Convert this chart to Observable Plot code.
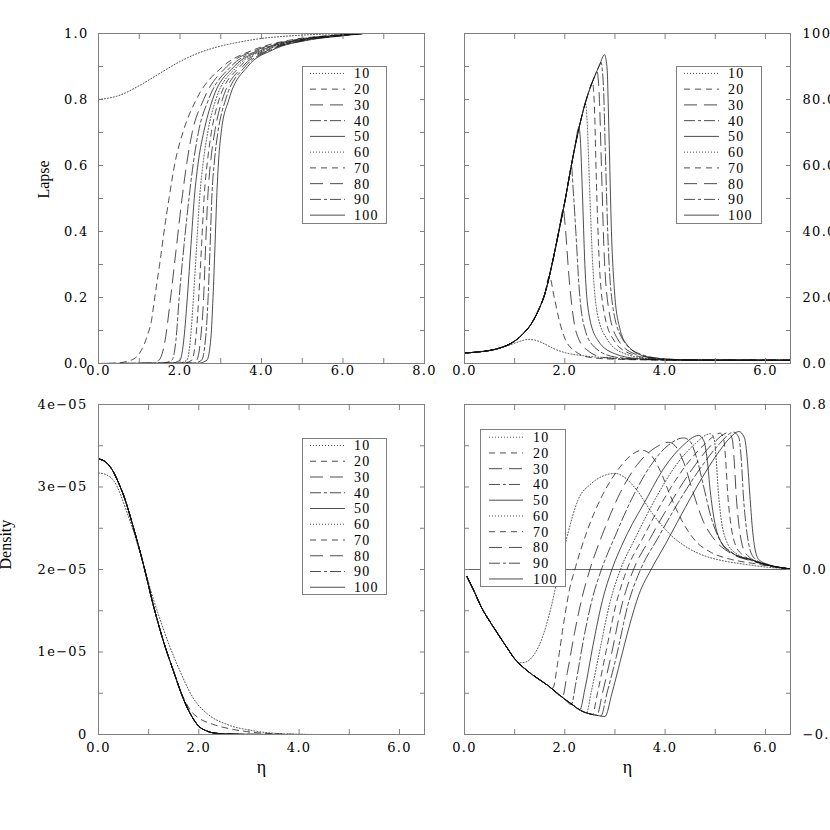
<!DOCTYPE html>
<html><head><meta charset="utf-8">
<script src="https://cdn.jsdelivr.net/npm/d3@7"></script>
<script src="https://cdn.jsdelivr.net/npm/@observablehq/plot@0.6"></script>
<style>
html,body{margin:0;padding:0;background:#fff;}
#fig{position:relative;width:830px;height:830px;overflow:hidden;background:#fff;}
</style></head><body><div id="fig"></div>
<script>
// ---------- series labels and line styles ----------
const series = ["10","20","30","40","50","60","70","80","90","100"];
const dashes = ["1,2","6,5","13,7","11,3,3,3",null,"1,2","6,5","13,7","11,3,3,3",null];

// ---------- top-left: Lapse vs eta ----------
const lapse10 = [[0,0.8],[0.5,0.812],[1,0.842],[1.5,0.879],[2,0.915],[2.5,0.943],[3,0.962],[3.5,0.975],[4,0.985],[4.5,0.991],[5,0.995],[5.5,0.998],[6,0.999],[6.5,1]];
const lapse20 = [[0,0],[0.4,0.001],[0.8,0.01],[1.05,0.04],[1.2,0.085],[1.3,0.13],[1.38,0.2],[1.5,0.3],[1.62,0.41],[1.73,0.5],[1.88,0.61],[2.07,0.7],[2.4,0.8],[3.05,0.9],[3.8,0.95],[4.7,0.98],[5.6,0.993],[6.5,1]];
const lapse30 = [[0,0],[1.2,0.001],[1.48,0.01],[1.62,0.06],[1.77,0.2],[1.9,0.34],[2.05,0.5],[2.17,0.61],[2.3,0.7],[2.58,0.8],[3.15,0.9],[3.88,0.95],[4.78,0.98],[5.65,0.993],[6.5,1]];
const lapse40 = [[0,0],[1.55,0.001],[1.8,0.01],[1.9,0.07],[1.98,0.2],[2.1,0.36],[2.22,0.5],[2.33,0.61],[2.45,0.7],[2.7,0.8],[3.25,0.9],[3.95,0.95],[4.85,0.98],[5.7,0.993],[6.5,1]];
const lapse50 = [[0,0],[1.78,0.001],[2.0,0.01],[2.1,0.08],[2.18,0.2],[2.27,0.36],[2.35,0.5],[2.46,0.62],[2.58,0.7],[2.8,0.8],[3.33,0.9],[4.02,0.95],[4.9,0.98],[5.75,0.993],[6.5,1]];
const lapse60 = [[0,0],[1.95,0.001],[2.17,0.01],[2.26,0.08],[2.33,0.2],[2.41,0.36],[2.48,0.5],[2.58,0.62],[2.68,0.7],[2.88,0.8],[3.4,0.9],[4.08,0.95],[4.95,0.98],[5.8,0.993],[6.5,1]];
const lapse70 = [[0,0],[2.08,0.001],[2.29,0.01],[2.39,0.08],[2.46,0.2],[2.53,0.36],[2.59,0.5],[2.68,0.62],[2.77,0.7],[2.96,0.8],[3.47,0.9],[4.13,0.95],[5.0,0.98],[5.85,0.993],[6.5,1]];
const lapse80 = [[0,0],[2.2,0.001],[2.41,0.01],[2.51,0.08],[2.58,0.2],[2.63,0.36],[2.68,0.5],[2.76,0.62],[2.85,0.7],[3.04,0.8],[3.54,0.9],[4.18,0.95],[5.05,0.98],[5.9,0.993],[6.5,1]];
const lapse90 = [[0,0],[2.33,0.001],[2.53,0.01],[2.63,0.08],[2.69,0.2],[2.74,0.36],[2.78,0.5],[2.85,0.62],[2.93,0.7],[3.12,0.8],[3.6,0.9],[4.22,0.95],[5.1,0.98],[5.95,0.993],[6.5,1]];
const lapse100 = [[0,0],[2.46,0.001],[2.66,0.01],[2.76,0.08],[2.81,0.2],[2.86,0.36],[2.9,0.5],[2.95,0.62],[3.01,0.7],[3.2,0.8],[3.66,0.9],[4.27,0.95],[5.15,0.98],[6.0,0.993],[6.5,1]];

// ---------- top-right ----------
const upRise = [[0,3.2],[0.33,3.6],[0.66,4.5],[1.0,6.8],[1.2,9.5],[1.33,12],[1.5,17],[1.6,21],[1.7,27],[1.8,34],[1.9,41.5],[2.0,49],[2.1,57.5],[2.2,65.5],[2.3,72.5],[2.4,78.5],[2.5,83.3],[2.6,87.2],[2.7,90.7],[2.79,93.6]];
const up10 = [[0,3.2],[0.33,3.55],[0.66,4.4],[0.9,5.6],[1.1,6.7],[1.28,7.3],[1.45,6.9],[1.6,5.9],[1.75,4.7],[2.0,3.3],[2.4,2.3],[3.0,1.6],[3.5,1.3],[4.0,1.1],[5,1.0],[6.5,1.0]];
const up20tail = [[1.69,26.4],[1.79,20],[1.89,13],[1.99,8],[2.19,3.9],[2.52,1.8],[3.0,1.3],[3.6,1.1],[4.5,1.0],[6.5,1.0]];
const up30tail = [[1.97,47],[2.0,43],[2.09,25],[2.19,12],[2.29,7],[2.46,3.9],[2.79,1.8],[3.3,1.3],[4.0,1.1],[6.5,1.0]];
const up40tail = [[2.13,60],[2.17,52],[2.22,40],[2.29,22],[2.39,11],[2.59,5],[2.99,2],[3.5,1.3],[4.2,1.05],[6.5,1.0]];
const up50tail = [[2.28,71.5],[2.31,68],[2.35,52],[2.4,30],[2.48,15],[2.66,7],[2.99,3],[3.45,1.5],[4.2,1.05],[6.5,1]];
const up60tail = [[2.41,79],[2.45,72],[2.49,55],[2.55,32],[2.65,15],[2.86,7],[3.19,3],[3.72,1.4],[4.3,1.05],[6.5,1]];
const up70tail = [[2.55,85.3],[2.59,78],[2.63,55],[2.69,30],[2.79,15],[2.98,7],[3.3,3],[3.8,1.4],[4.4,1.05],[6.5,1]];
const up80tail = [[2.64,88.6],[2.69,80],[2.73,60],[2.78,35],[2.88,16],[3.05,7.5],[3.38,3],[3.9,1.4],[4.5,1.05],[6.5,1]];
const up90tail = [[2.72,91.3],[2.77,84],[2.81,63],[2.86,38],[2.95,18],[3.13,8],[3.45,3.2],[3.98,1.4],[4.6,1.05],[6.5,1]];
const up100tail = [[2.79,93.6],[2.84,90],[2.88,70],[2.93,40],[2.99,22],[3.09,11],[3.25,5.5],[3.59,2.2],[3.98,1.4],[4.6,1.05],[6.5,1]];

// ---------- bottom-left: Density (units of 1e-05) ----------
const densMain = [[0,3.34],[0.1,3.32],[0.2,3.27],[0.3,3.18],[0.4,3.05],[0.5,2.9],[0.7,2.5],[0.9,2.05],[1.1,1.55],[1.3,1.12],[1.5,0.76],[1.7,0.42],[1.85,0.23],[2.0,0.1],[2.15,0.045],[2.3,0.018],[2.6,0.005],[3.0,0.001],[4,0]];
const dens10 = [[0,3.17],[0.15,3.15],[0.31,3.07],[0.57,2.69],[0.84,2.18],[1.1,1.63],[1.37,1.15],[1.63,0.76],[1.9,0.43],[2.17,0.25],[2.57,0.12],[3.04,0.05],[3.5,0.015],[4.0,0.003],[4.5,0]];
const dens20 = [[0,3.34],[0.1,3.32],[0.2,3.27],[0.3,3.18],[0.4,3.05],[0.5,2.9],[0.7,2.5],[0.9,2.05],[1.1,1.55],[1.3,1.12],[1.5,0.76],[1.7,0.44],[1.85,0.28],[2.0,0.2],[2.3,0.12],[2.7,0.06],[3.1,0.025],[3.6,0.007],[4.2,0]];

// ---------- bottom-right ----------
const lowEnv = [[0.05,-0.035],[0.2,-0.11],[0.33,-0.18],[0.5,-0.25],[0.66,-0.31],[0.85,-0.38],[1.0,-0.433],[1.15,-0.47],[1.33,-0.506],[1.5,-0.535],[1.66,-0.562],[1.8,-0.59],[1.99,-0.627],[2.15,-0.655],[2.32,-0.684],[2.5,-0.7],[2.66,-0.708],[2.8,-0.713]];
const low10tail = [[1.1,-0.452],[1.2,-0.45],[1.33,-0.43],[1.53,-0.344],[1.73,-0.18],[1.89,0],[2.06,0.173],[2.26,0.335],[2.52,0.415],[2.79,0.456],[3.0,0.466],[3.2,0.445],[3.45,0.38],[3.75,0.27],[4.1,0.17],[4.45,0.105],[4.8,0.065],[5.2,0.04],[5.6,0.025],[6.0,0.012],[6.5,0.003]];
const low20tail = [[1.76,-0.575],[1.86,-0.45],[1.99,-0.24],[2.1,-0.09],[2.2,0],[2.45,0.19],[2.75,0.36],[3.05,0.48],[3.3,0.55],[3.54,0.578],[3.7,0.56],[3.9,0.48],[4.1,0.36],[4.35,0.23],[4.6,0.14],[4.9,0.085],[5.3,0.05],[5.75,0.03],[6.1,0.015],[6.5,0.003]];
const low30tail = [[1.95,-0.62],[2.05,-0.5],[2.2,-0.3],[2.35,-0.13],[2.5,0],[2.75,0.17],[3.1,0.37],[3.45,0.51],[3.8,0.59],[4.07,0.617],[4.2,0.6],[4.37,0.52],[4.55,0.38],[4.75,0.24],[5.0,0.14],[5.3,0.08],[5.75,0.04],[6.1,0.018],[6.5,0.003]];
const low40tail = [[2.13,-0.655],[2.22,-0.55],[2.38,-0.33],[2.55,-0.14],[2.73,0],[3.0,0.16],[3.35,0.35],[3.7,0.5],[4.05,0.6],[4.37,0.638],[4.5,0.62],[4.63,0.54],[4.77,0.4],[4.92,0.25],[5.1,0.14],[5.35,0.08],[5.75,0.042],[6.1,0.018],[6.5,0.003]];
const low50tail = [[2.3,-0.68],[2.4,-0.58],[2.56,-0.37],[2.75,-0.15],[2.94,0],[3.2,0.15],[3.6,0.33],[4.0,0.5],[4.35,0.6],[4.67,0.65],[4.77,0.625],[4.84,0.53],[4.9,0.38],[4.98,0.24],[5.1,0.14],[5.3,0.085],[5.75,0.045],[6.1,0.018],[6.5,0.003]];
const low60tail = [[2.43,-0.695],[2.53,-0.59],[2.7,-0.39],[2.9,-0.16],[3.11,0],[3.4,0.15],[3.8,0.34],[4.2,0.5],[4.6,0.61],[4.9,0.658],[4.98,0.63],[5.02,0.53],[5.06,0.38],[5.12,0.24],[5.22,0.14],[5.4,0.08],[5.75,0.045],[6.1,0.018],[6.5,0.003]];
const low70tail = [[2.55,-0.703],[2.65,-0.6],[2.82,-0.4],[3.02,-0.17],[3.24,0],[3.55,0.15],[3.95,0.33],[4.4,0.5],[4.8,0.61],[5.1,0.661],[5.17,0.63],[5.21,0.52],[5.25,0.36],[5.31,0.22],[5.4,0.12],[5.55,0.07],[5.8,0.04],[6.1,0.018],[6.5,0.003]];
const low80tail = [[2.64,-0.707],[2.75,-0.6],[2.93,-0.41],[3.14,-0.17],[3.37,0],[3.7,0.15],[4.1,0.32],[4.55,0.49],[4.95,0.61],[5.27,0.664],[5.34,0.63],[5.38,0.52],[5.42,0.35],[5.48,0.2],[5.56,0.1],[5.68,0.06],[5.85,0.035],[6.1,0.018],[6.5,0.003]];
const low90tail = [[2.72,-0.71],[2.84,-0.6],[3.03,-0.42],[3.26,-0.17],[3.51,0],[3.85,0.15],[4.25,0.32],[4.7,0.49],[5.05,0.6],[5.37,0.666],[5.47,0.64],[5.52,0.53],[5.56,0.36],[5.62,0.2],[5.7,0.09],[5.8,0.05],[5.95,0.03],[6.2,0.014],[6.5,0.003]];
const low100tail = [[2.8,-0.713],[2.94,-0.6],[3.11,-0.44],[3.28,-0.28],[3.48,-0.12],[3.72,0],[4.0,0.12],[4.4,0.3],[4.8,0.47],[5.1,0.58],[5.3,0.64],[5.47,0.669],[5.58,0.64],[5.64,0.53],[5.69,0.36],[5.74,0.2],[5.8,0.09],[5.88,0.045],[6.05,0.025],[6.3,0.01],[6.5,0.003]];

// ---------- tick values ----------
const xTicksTL = [0,1,2,3,4,5,6,7,8], xLabelsTL = [0,2,4,6,8];
const xTicks = [0,1,2,3,4,5,6], xLabels = [0,2,4,6];
const yTicksTL = [0,0.1,0.2,0.3,0.4,0.5,0.6,0.7,0.8,0.9,1.0], yLabelsTL = [0,0.2,0.4,0.6,0.8,1.0];
const yTicksTR = [0,10,20,30,40,50,60,70,80,90,100], yLabelsTR = [0,20,40,60,80,100];
const yTicksBL = [0,0.5e-5,1e-5,1.5e-5,2e-5,2.5e-5,3e-5,3.5e-5,4e-5], yLabelsBL = [0,1e-5,2e-5,3e-5,4e-5];
const yTicksBR = [-0.8,-0.6,-0.4,-0.2,0,0.2,0.4,0.6,0.8], yLabelsBR = [-0.8,0,0.8];

// ---------- assemble curves ----------
const upTo = (env, eta) => env.filter(p => p[0] < eta - 0.005);
const lapseCurves = [lapse10,lapse20,lapse30,lapse40,lapse50,lapse60,lapse70,lapse80,lapse90,lapse100];
const upCurves = [up10, ...[up20tail,up30tail,up40tail,up50tail,up60tail,up70tail,up80tail,up90tail,up100tail].map(t => upTo(upRise, t[0][0]).concat(t))];
const densCurves = [dens10, dens20, densMain, densMain, densMain, densMain, densMain, densMain, densMain, densMain];
const lowCurves = [low10tail,low20tail,low30tail,low40tail,low50tail,low60tail,low70tail,low80tail,low90tail,low100tail].map(t => upTo(lowEnv, t[0][0]).concat(t));

const fig = document.getElementById("fig");
const FRAME = "#808080";

function panel(o) {
  const marks = [];
  if (o.zero) marks.push(Plot.ruleY([0], {stroke: "#555", strokeWidth: 0.9}));
  o.curves.forEach((pts, i) => marks.push(Plot.line(pts, {
    x: d => d[0], y: d => d[1] * (o.k || 1),
    stroke: "#111", strokeWidth: 0.75, strokeDasharray: dashes[i] || undefined,
    curve: "monotone-x"
  })));
  marks.push(Plot.frame({stroke: FRAME, strokeWidth: 1}));
  for (const anchor of ["bottom", "top"])
    marks.push(Plot.axisX(o.xTicks, {anchor, tickSize: -5, tickFormat: () => "", label: null, stroke: FRAME}));
  for (const anchor of ["left", "right"])
    marks.push(Plot.axisY(o.yTicks, {anchor, tickSize: -5, tickFormat: () => "", label: null, stroke: FRAME}));
  marks.push(Plot.axisX(o.xLabels, {anchor: "bottom", tickSize: 0, tickPadding: o.xPad, tickFormat: d => d.toFixed(1), label: null}));
  marks.push(Plot.axisY(o.yLabels, {anchor: o.yAnchor, tickSize: 0, tickPadding: o.yPad, tickFormat: o.yFormat, label: null}));
  if (o.ylabel) marks.push(Plot.text([o.ylabel], {text: d => d, frameAnchor: "left", dx: o.ylabelDx, rotate: -90, fontFamily: "Liberation Serif", fontSize: 16, lineAnchor: "middle"}));
  if (o.xlabel) marks.push(Plot.text([o.xlabel], {text: d => d, frameAnchor: "bottom", dy: 33, fontFamily: "Liberation Serif", fontSize: 18, lineAnchor: "middle"}));
  const svg = Plot.plot({
    width: o.w, height: o.h,
    marginLeft: o.m[0], marginRight: o.m[1], marginTop: o.m[2], marginBottom: o.m[3],
    x: {domain: o.xDomain, axis: null},
    y: {domain: o.yDomain, axis: null},
    style: {fontFamily: "DejaVu Serif", fontSize: "13px", letterSpacing: "1.3px", color: "#000", background: "transparent", overflow: "visible"},
    marks
  });
  svg.style.position = "absolute";
  svg.style.left = o.left + "px";
  svg.style.top = o.top + "px";
  svg.style.maxWidth = "none";
  svg.querySelectorAll('g[aria-label="text"] text').forEach(t => t.style.letterSpacing = "0px");
  fig.appendChild(svg);
}

function legend(left, top, w, h, row0, lx1, lx2, tx) {
  const svg = d3.create("svg").attr("width", w + 2).attr("height", h + 2)
    .style("position", "absolute").style("left", left + "px").style("top", top + "px").style("overflow", "visible");
  svg.append("rect").attr("x", 0.5).attr("y", 0.5).attr("width", w).attr("height", h)
    .attr("fill", "#fff").attr("stroke", FRAME).attr("stroke-width", 1);
  series.forEach((s, i) => {
    const y = row0 + i * 15.75;
    const ln = svg.append("line").attr("x1", lx1).attr("x2", lx2).attr("y1", y).attr("y2", y)
      .attr("stroke", "#111").attr("stroke-width", 0.75);
    if (dashes[i]) ln.attr("stroke-dasharray", dashes[i]);
    svg.append("text").attr("x", tx).attr("y", y).attr("dy", "0.35em")
      .attr("font-family", "Liberation Serif").attr("font-size", 14).attr("letter-spacing", "1.2px")
      .attr("fill", "#000").text(s);
  });
  fig.appendChild(svg.node());
}

panel({left: 0, top: 0, w: 430, h: 400, m: [98, 6, 33, 37], xDomain: [0, 8], yDomain: [0, 1],
  curves: lapseCurves, xTicks: xTicksTL, xLabels: xLabelsTL, yTicks: yTicksTL, yLabels: yLabelsTL,
  yAnchor: "left", yPad: 10, xPad: 2, yFormat: d => d.toFixed(1), ylabel: "Lapse", ylabelDx: -55});
panel({left: 430, top: 0, w: 400, h: 400, m: [34, 40, 33, 37], xDomain: [0, 6.5], yDomain: [0, 100],
  curves: upCurves, xTicks, xLabels, yTicks: yTicksTR, yLabels: yLabelsTR,
  yAnchor: "right", yPad: 12, xPad: 2, yFormat: d => d === 100 ? "100" : d.toFixed(1)});
panel({left: 0, top: 400, w: 430, h: 430, m: [98, 6, 4, 96], xDomain: [0, 6.5], yDomain: [0, 4e-5], k: 1e-5,
  curves: densCurves, xTicks, xLabels, yTicks: yTicksBL, yLabels: yLabelsBL,
  yAnchor: "left", yPad: 11, xPad: 8, yFormat: d => d === 0 ? "0" : Math.round(d * 1e5) + "e\u221205",
  ylabel: "Density", ylabelDx: -93, xlabel: "η"});
panel({left: 430, top: 400, w: 400, h: 430, m: [34, 40, 4, 96], xDomain: [0, 6.5], yDomain: [-0.8, 0.8], zero: true,
  curves: lowCurves, xTicks, xLabels, yTicks: yTicksBR, yLabels: yLabelsBR,
  yAnchor: "right", yPad: 12, xPad: 8, yFormat: d => (d < 0 ? "\u2212" : "") + Math.abs(d).toFixed(1), xlabel: "η"});

legend(302, 66, 84, 157, 7.4, 8, 43, 52);
legend(676, 66, 85, 157, 7.4, 8, 43, 52);
legend(302, 438, 84, 156, 7.5, 8, 43, 52);
legend(480, 429, 85, 157, 8.2, 9, 43, 53);
</script></body></html>
